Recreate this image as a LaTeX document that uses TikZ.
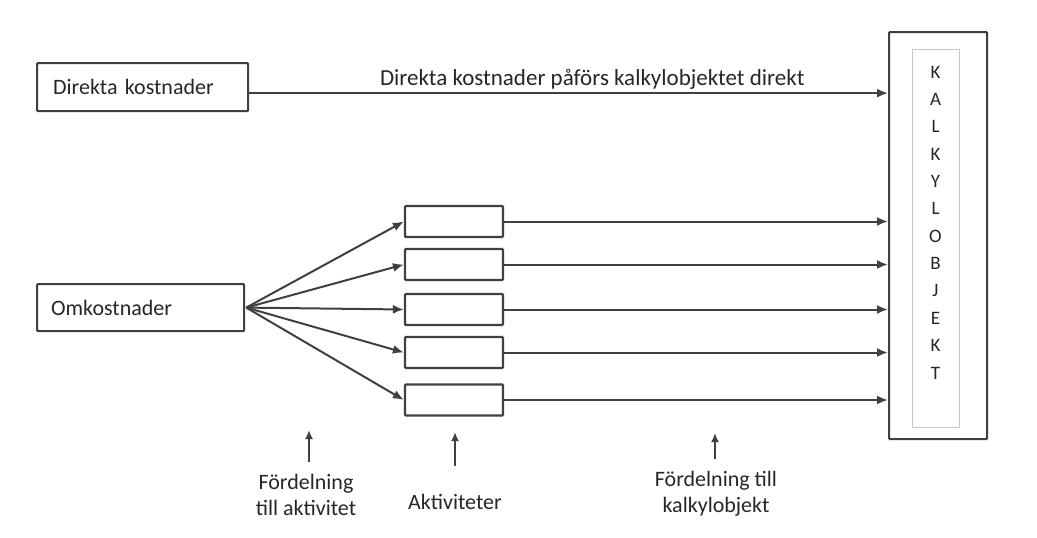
\documentclass[tikz,border=0pt]{standalone}
\usepackage{fontspec}
\setmainfont{Carlito}
\usetikzlibrary{arrows.meta}
\definecolor{linegray}{HTML}{404040}
\definecolor{txtgray}{HTML}{262626}
\tikzset{
  every node/.style={font={\fontsize{22}{26}\selectfont}, text=txtgray},
  box/.style={draw=linegray, line width=2.2pt, rounded corners=1pt, inner sep=0pt},
  actbox/.style={box, minimum width=98pt, minimum height=31pt},
  arr/.style={draw=linegray, line width=2pt, -{Latex[length=11pt,width=9pt]}},
  uparr/.style={draw=linegray, line width=1.8pt, -{Latex[length=9pt,width=8pt]}},
  lbl/.style={align=center, inner sep=0pt},
  letter/.style={inner sep=0pt, font={\fontsize{19}{20}\selectfont}},
}
\begin{document}
\begin{tikzpicture}[x=1pt,y=-1pt]
\useasboundingbox (0,0) rectangle (1037,538);
% cost boxes
\node[box, anchor=north west, minimum height=48pt, text width=179pt, inner xsep=16pt, align=left] (dk) at (36,62) {Direkta kostnader};
\node[box, anchor=north west, minimum height=47pt, text width=179pt, inner xsep=14pt, align=left] (om) at (36,283) {Omkostnader};
% big object box
\node[box, anchor=north west, minimum width=98pt, minimum height=407pt] (kalk) at (888,31) {};
\node[draw=black!22, line width=1pt, anchor=north west, minimum width=47pt, minimum height=378pt, inner sep=0pt] (inner) at (912,49) {};
\foreach \c [count=\i from 0] in {K,A,L,K,Y,L,O,B,J,E,K,T}{
  \node[letter] (l\i) at (935.5,{72+27.36*\i}) {\c};
}
% activity boxes
\node[actbox] (a1) at (454,221.5) {};
\node[actbox] (a2) at (454,264.5) {};
\node[actbox] (a3) at (454,309.5) {};
\node[actbox] (a4) at (454,352.5) {};
\node[actbox] (a5) at (454,400) {};
% direct line
\draw[arr] ([yshift=-6pt]dk.east) -- ([yshift=-6pt]dk.east -| kalk.west)
  node[pos=0.537, above=3pt, inner sep=0pt, font={\fontsize{23}{26}\selectfont}] (dklab) {Direkta kostnader påförs kalkylobjektet direkt};
% fan
\foreach \i in {1,...,5}{
  \draw[arr] ([xshift=1pt]om.east) -- (a\i.west);
  \draw[arr] (a\i.east) -- (a\i.east -| kalk.west);
}
% bottom labels
\node[lbl] (f1) at (306,495) {Fördelning\\till aktivitet};
\node[lbl] (akt) at (455,502) {Aktiviteter};
\node[lbl] (f2) at (716,494) {Fördelning till\\kalkylobjekt};
\coordinate (t1) at (309,430);
\coordinate (t2) at (455,432);
\coordinate (t3) at (715,433);
\draw[uparr] (f1.north -| t1) ++(0,-12) -- (t1);
\draw[uparr] (akt.north -| t2) ++(0,-28) -- (t2);
\draw[uparr] (f2.north -| t3) ++(0,-12) -- (t3);
\end{tikzpicture}
\end{document}
